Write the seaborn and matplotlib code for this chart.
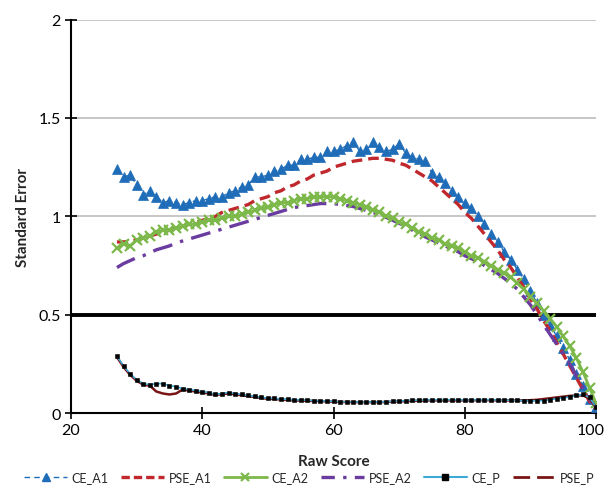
import numpy as np
import pandas as pd
import matplotlib
matplotlib.use("Agg")
import matplotlib.pyplot as plt
import matplotlib.transforms as mtransforms
import seaborn as sns
from matplotlib.lines import Line2D

score = list(range(27, 101))

ce_a1 = [1.24, 1.20, 1.21, 1.16, 1.11, 1.13, 1.10, 1.07, 1.08, 1.07,
         1.06, 1.07, 1.08, 1.08, 1.09, 1.10, 1.10, 1.12, 1.13, 1.15,
         1.16, 1.20, 1.20, 1.21, 1.23, 1.24, 1.26, 1.26, 1.29, 1.29,
         1.30, 1.30, 1.33, 1.33, 1.34, 1.36, 1.38, 1.33, 1.34, 1.38,
         1.35, 1.33, 1.34, 1.37, 1.32, 1.30, 1.29, 1.28, 1.22, 1.20,
         1.17, 1.13, 1.10, 1.07, 1.04, 1.00, 0.96, 0.91, 0.87, 0.82,
         0.78, 0.73, 0.68, 0.62, 0.56, 0.50, 0.45, 0.39, 0.33, 0.27,
         0.20, 0.14, 0.07, 0.03]

pse_a1 = [0.87, 0.87, 0.875, 0.88, 0.89, 0.90, 0.91, 0.92, 0.93, 0.94,
          0.95, 0.96, 0.97, 0.98, 0.99, 1.00, 1.02, 1.03, 1.04, 1.05,
          1.06, 1.08, 1.09, 1.10, 1.12, 1.13, 1.15, 1.16, 1.18, 1.19,
          1.21, 1.22, 1.23, 1.25, 1.26, 1.27, 1.28, 1.285, 1.29, 1.295,
          1.295, 1.29, 1.285, 1.27, 1.26, 1.24, 1.22, 1.20, 1.18, 1.15,
          1.12, 1.09, 1.06, 1.02, 0.99, 0.95, 0.91, 0.87, 0.83, 0.78,
          0.74, 0.69, 0.64, 0.58, 0.53, 0.47, 0.42, 0.36, 0.30, 0.24,
          0.18, 0.12, 0.06, 0.02]

ce_a2 = [0.84, 0.86, 0.85, 0.88, 0.89, 0.90, 0.92, 0.93, 0.93, 0.94,
         0.95, 0.96, 0.96, 0.97, 0.98, 0.98, 0.99, 1.00, 1.00, 1.01,
         1.02, 1.03, 1.04, 1.05, 1.06, 1.07, 1.07, 1.08, 1.09, 1.09,
         1.10, 1.10, 1.10, 1.10, 1.09, 1.08, 1.07, 1.06, 1.05, 1.03,
         1.02, 1.00, 0.99, 0.97, 0.96, 0.94, 0.92, 0.91, 0.89, 0.88,
         0.86, 0.85, 0.84, 0.82, 0.80, 0.79, 0.77, 0.75, 0.73, 0.71,
         0.69, 0.66, 0.63, 0.59, 0.56, 0.52, 0.48, 0.44, 0.39, 0.34,
         0.28, 0.21, 0.13, 0.05]

pse_a2 = [0.74, 0.76, 0.775, 0.79, 0.80, 0.815, 0.83, 0.84, 0.85, 0.865,
          0.875, 0.885, 0.895, 0.905, 0.915, 0.925, 0.935, 0.945, 0.955, 0.965,
          0.975, 0.985, 0.995, 1.005, 1.015, 1.025, 1.035, 1.045, 1.05, 1.055,
          1.06, 1.065, 1.065, 1.065, 1.06, 1.055, 1.05, 1.04, 1.03, 1.02,
          1.01, 0.995, 0.98, 0.965, 0.95, 0.93, 0.915, 0.895, 0.88, 0.865,
          0.85, 0.835, 0.82, 0.80, 0.785, 0.77, 0.75, 0.73, 0.71, 0.685,
          0.66, 0.63, 0.59, 0.55, 0.50, 0.45, 0.40, 0.35, 0.30, 0.25,
          0.19, 0.13, 0.07, 0.03]

ce_p = [0.29, 0.24, 0.20, 0.17, 0.15, 0.145, 0.15, 0.15, 0.14, 0.135,
        0.125, 0.12, 0.115, 0.11, 0.105, 0.095, 0.10, 0.105, 0.10, 0.095,
        0.09, 0.085, 0.08, 0.076, 0.075, 0.072, 0.07, 0.068, 0.067, 0.066,
        0.064, 0.063, 0.062, 0.06, 0.058, 0.058, 0.057, 0.057, 0.057, 0.057,
        0.057, 0.058, 0.06, 0.062, 0.064, 0.065, 0.066, 0.067, 0.068, 0.068,
        0.068, 0.068, 0.068, 0.067, 0.067, 0.068, 0.068, 0.068, 0.067, 0.066,
        0.066, 0.065, 0.064, 0.063, 0.063, 0.064, 0.068, 0.074, 0.078, 0.082,
        0.09, 0.095, 0.08, 0.03]

pse_p = [0.285, 0.235, 0.195, 0.165, 0.145, 0.14, 0.11, 0.10, 0.095, 0.10,
         0.12, 0.115, 0.11, 0.105, 0.10, 0.092, 0.097, 0.10, 0.096, 0.091,
         0.087, 0.082, 0.077, 0.073, 0.072, 0.069, 0.067, 0.065, 0.064, 0.063,
         0.062, 0.061, 0.06, 0.058, 0.057, 0.057, 0.056, 0.056, 0.056, 0.056,
         0.056, 0.057, 0.058, 0.06, 0.061, 0.062, 0.063, 0.064, 0.065, 0.065,
         0.065, 0.065, 0.065, 0.065, 0.065, 0.066, 0.066, 0.066, 0.065, 0.065,
         0.065, 0.065, 0.065, 0.066, 0.068, 0.072, 0.076, 0.08, 0.084, 0.088,
         0.09, 0.09, 0.075, 0.03]

x_ticks = [20, 40, 60, 80, 100]
y_ticks = [0, 0.5, 1, 1.5, 2]
y_tick_labels = ["0", "0.5", "1", "1.5", "2"]

sns.set_theme(style="white")
plt.rcParams['font.family'] = ['Lato', 'DejaVu Sans']

fig = plt.figure(figsize=(6.07, 4.89), dpi=100)
ax = fig.add_axes([0.117, 0.153, 0.865, 0.805])

c_blue = "#1F6DB8"
c_red = "#C0282D"
c_green = "#7DB84A"
c_purple = "#6A3CA0"
c_cyan = "#3FA9D6"
c_dred = "#7A1515"

# gridlines
for yv in [1, 1.5, 2]:
    ax.axhline(yv, color="#BDBDBD", lw=1.2, zorder=0)
ax.axhline(0.5, color="black", lw=2.8, zorder=1)

sns.lineplot(x=score, y=ce_a1, ax=ax, color=c_blue, linestyle=(0, (4, 3)), lw=1.0,
             marker="^", markersize=7.5, markeredgecolor=c_blue, markeredgewidth=0.5,
             zorder=3)
sns.lineplot(x=score, y=pse_a1, ax=ax, color=c_red, lw=2.4, zorder=4,
             linestyle=(0, (3.2, 1.8)))
sns.lineplot(x=score, y=ce_a2, ax=ax, color=c_green, lw=2.0, marker="x",
             markersize=7, markeredgecolor=c_green, markeredgewidth=1.6, zorder=5)
sns.lineplot(x=score, y=pse_a2, ax=ax, color=c_purple, lw=2.4, zorder=4,
             linestyle=(0, (6, 2.5, 1, 2.5)))
sns.lineplot(x=score, y=pse_p, ax=ax, color=c_dred, lw=1.8, zorder=5,
             linestyle="-")
sns.lineplot(x=score, y=ce_p, ax=ax, color=c_cyan, lw=1.2, marker="s",
             markersize=3.2, markeredgecolor="black", markerfacecolor="black",
             markeredgewidth=0.4, zorder=6)

ax.set_xlim(20, 100)
ax.set_ylim(0, 2)
ax.set_xticks(x_ticks)
ax.set_yticks(y_ticks)
ax.set_yticklabels(y_tick_labels)
ax.tick_params(axis="both", labelsize=11.5, colors="black", direction="inout",
               length=8, width=1.2, bottom=True, left=True)
ax.tick_params(axis="x", pad=3)
for s in ["top", "right"]:
    ax.spines[s].set_visible(False)
for s in ["left", "bottom"]:
    ax.spines[s].set_color("black")
    ax.spines[s].set_linewidth(1.5)

# keep the last x tick label inside the figure
last_lbl = ax.get_xticklabels()[-1]
last_lbl.set_transform(last_lbl.get_transform() +
                       mtransforms.ScaledTranslation(-5 / 100, 0, fig.dpi_scale_trans))

ax.set_xlabel("Raw Score", fontsize=11, fontweight="bold", labelpad=12)
ax.set_ylabel("Standard Error", fontsize=11, fontweight="bold", labelpad=6)

handles = [
    Line2D([], [], color=c_blue, lw=1.0, linestyle=(0, (4, 3)), marker="^",
           markersize=6, markevery=[1], markeredgecolor=c_blue),
    Line2D([], [], color=c_red, lw=2.4, linestyle=(0, (2.5, 1.2))),
    Line2D([], [], color=c_green, lw=2.0, marker="x", markersize=6, markevery=[1],
           markeredgecolor=c_green, markeredgewidth=1.6),
    Line2D([], [], color=c_purple, lw=2.4, linestyle=(0, (4, 2.5, 1, 2.5))),
    Line2D([], [], color=c_cyan, lw=1.5, marker="s", markersize=5, markevery=[1],
           markeredgecolor="black", markerfacecolor="black"),
    Line2D([], [], color=c_dred, lw=2.0, linestyle=(0, (6, 2.5))),
]
for h in handles:
    h.set_xdata([0, 0.5, 1]); h.set_ydata([0, 0, 0])
labels = ["CE_A1", "PSE_A1", "CE_A2", "PSE_A2", "CE_P", "PSE_P"]
fig.legend(handles, labels, loc="center", bbox_to_anchor=(0.51, 0.022), ncol=6,
           frameon=False, fontsize=9, handlelength=3.4, columnspacing=1.0,
           handletextpad=0.4, borderpad=0.1)

fig.savefig("out.png", dpi=100)
